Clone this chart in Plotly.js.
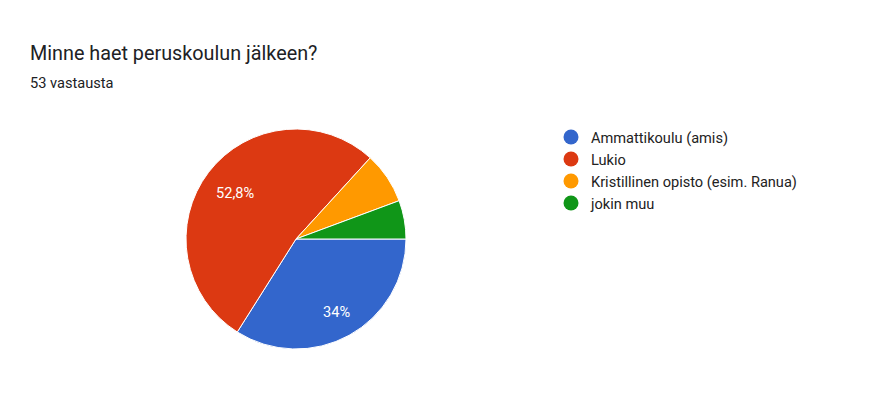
<!DOCTYPE html>
<html>
<head>
<meta charset="utf-8">
<script src="https://cdn.plot.ly/plotly-3.0.1.min.js"></script>
<style>
html,body{margin:0;padding:0;background:#fff;}
#chart{width:883px;height:406px;}
</style>
</head>
<body>
<div id="chart"></div>
<script>
const titleText = "Minne haet peruskoulun jälkeen?";
const subtitleText = "53 vastausta";
const categories = ["Ammattikoulu (amis)", "Lukio", "Kristillinen opisto (esim. Ranua)", "jokin muu"];
const counts = [18, 28, 4, 3];
const colors = ["#3366CC", "#DC3912", "#FF9900", "#109618"];

const W = 883, H = 406;
const font = "Roboto, Arial, sans-serif";
const labelSize = 14.6;
const total = counts.reduce((a, b) => a + b, 0);
const labelThreshold = 10; // percent; smaller slices carry no label

function fmtPct(v) {
  const p = Math.round(v / total * 1000) / 10;
  if (p < labelThreshold) return "";
  return ((p % 1 === 0) ? String(p) : p.toFixed(1).replace(".", ",")) + "%";
}
const sliceText = counts.map(fmtPct);

// pie domain (paper fractions)
const domX = [186 / W, 406 / W];
const domY = [57 / H, 277 / H];
const startAngle = 90; // degrees clockwise from 12 o'clock

// label placement like Google Charts: outer edge of the text at a fixed fraction of radius
const cvs = document.createElement("canvas").getContext("2d");
cvs.font = labelSize + "px Roboto";
const cxPx = (domX[0] + domX[1]) / 2 * W;
const cyPx = (domY[0] + domY[1]) / 2 * H; // from bottom
const rPx = Math.min((domX[1] - domX[0]) * W, (domY[1] - domY[0]) * H) / 2;
const labelAnnotations = [];
let acc = 0;
counts.forEach((v, i) => {
  const span = v / total * 360;
  const mid = (startAngle + acc + span / 2) * Math.PI / 180;
  acc += span;
  if (!sliceText[i]) return;
  const sx = Math.sin(mid), cy = Math.cos(mid);
  const w = cvs.measureText(sliceText[i]).width;
  const h = labelSize * 0.72;
  const d = 0.86 * rPx - (w / 2 * Math.abs(sx) + h / 2 * Math.abs(cy));
  labelAnnotations.push({
    text: sliceText[i], xref: "paper", yref: "paper",
    x: (cxPx + d * sx) / W, y: (cyPx + d * cy) / H,
    xanchor: "center", yanchor: "middle", showarrow: false,
    font: {family: font, size: labelSize, color: "#ffffff"}
  });
});

const pie = {
  type: "pie",
  labels: categories,
  values: counts,
  textinfo: "none",
  marker: {colors: colors, line: {color: "#ffffff", width: 1}},
  sort: false,
  direction: "clockwise",
  rotation: startAngle,
  showlegend: false,
  hoverinfo: "skip",
  domain: {x: domX, y: domY}
};

const legendTraces = categories.map((c, i) => ({
  type: "scatter",
  mode: "markers",
  x: [null], y: [null],
  name: c,
  marker: {color: colors[i], size: 15, symbol: "circle"},
  showlegend: true,
  hoverinfo: "skip"
}));

const layout = {
  width: W, height: H,
  margin: {l: 0, r: 0, t: 0, b: 0},
  paper_bgcolor: "#ffffff",
  plot_bgcolor: "#ffffff",
  font: {family: font, color: "#222222"},
  xaxis: {visible: false, domain: [0.99, 1]},
  yaxis: {visible: false, domain: [0.99, 1]},
  showlegend: true,
  legend: {
    x: 551 / W, y: 1 - 121 / H, xanchor: "left", yanchor: "top",
    font: {family: font, size: 14.6, color: "#222222"},
    itemclick: false, itemdoubleclick: false,
    tracegroupgap: 0,
    bgcolor: "rgba(0,0,0,0)"
  },
  annotations: [
    {text: titleText, xref: "paper", yref: "paper", x: 28 / W, y: 1 - 40 / H,
     xanchor: "left", yanchor: "top", showarrow: false,
     font: {family: font, size: 19.8, color: "#202124"}},
    {text: subtitleText, xref: "paper", yref: "paper", x: 28 / W, y: 1 - 72 / H,
     xanchor: "left", yanchor: "top", showarrow: false,
     font: {family: font, size: 14.6, color: "#202124"}}
  ].concat(labelAnnotations)
};

Plotly.newPlot("chart", [pie].concat(legendTraces), layout, {displayModeBar: false, staticPlot: true});
</script>
</body>
</html>
